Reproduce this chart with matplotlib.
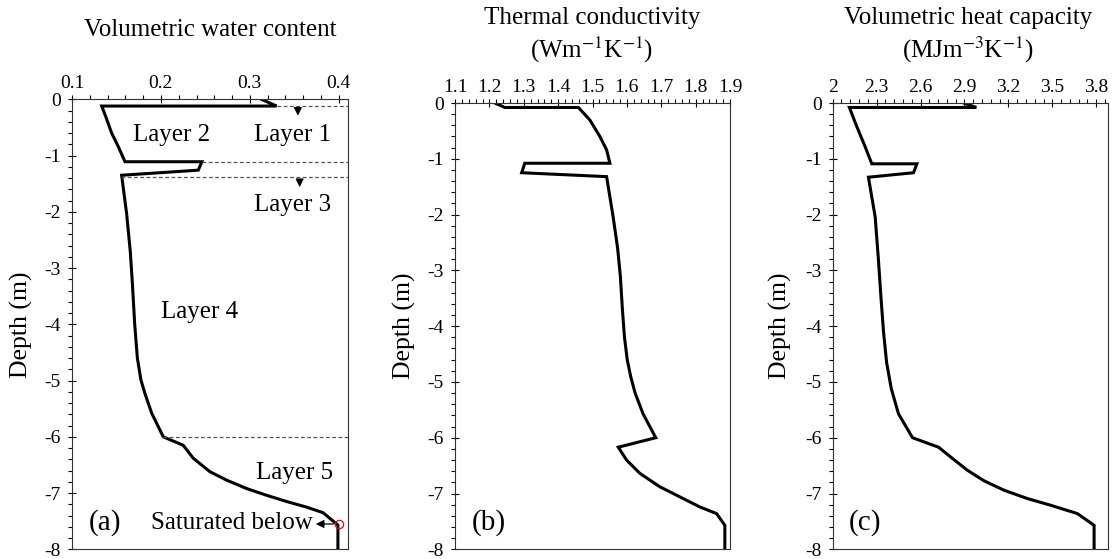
import numpy as np
import matplotlib
matplotlib.use('Agg')
import matplotlib.pyplot as plt
from matplotlib.ticker import MultipleLocator, FixedLocator

plt.rcParams['font.family'] = ['Liberation Serif', 'DejaVu Serif']
plt.rcParams['mathtext.fontset'] = 'stix'

# (a) volumetric water content profile
vwc_x = [0.313, 0.330, 0.1334, 0.138, 0.1446, 0.152, 0.1596, 0.246, 0.242, 0.1558,
         0.1614, 0.1655, 0.168, 0.1705, 0.1735, 0.1775, 0.182, 0.1896, 0.2026,
         0.225, 0.2363, 0.255, 0.2738, 0.2963, 0.3188, 0.3412, 0.3637, 0.3824,
         0.399, 0.399]
vwc_z = [0.0, -0.12, -0.12, -0.31, -0.60, -0.84, -1.11, -1.11, -1.26, -1.35,
         -2.03, -2.7, -3.3, -4.0, -4.6, -4.99, -5.23, -5.58, -6.0,
         -6.15, -6.38, -6.62, -6.77, -6.92, -7.04, -7.15, -7.25, -7.35,
         -7.57, -8.0]

# (b) thermal conductivity profile
tc_x = [1.216, 1.245, 1.459, 1.4924, 1.5215, 1.541, 1.5506, 1.303, 1.294, 1.541,
        1.560, 1.573, 1.581, 1.587, 1.593, 1.601, 1.611, 1.624, 1.647, 1.684,
        1.575, 1.599, 1.638, 1.696, 1.754, 1.812, 1.861, 1.885, 1.885]
tc_z = [0.0, -0.08, -0.08, -0.305, -0.60, -0.84, -1.08, -1.08, -1.25, -1.32,
        -2.04, -2.6, -3.1, -3.7, -4.2, -4.6, -4.9, -5.2, -5.57, -6.0,
        -6.17, -6.40, -6.64, -6.88, -7.06, -7.24, -7.36, -7.57, -8.0]

# (c) volumetric heat capacity profile
hc_x = [2.895, 2.981, 2.114, 2.164, 2.221, 2.267, 2.575, 2.552, 2.244,
        2.290, 2.312, 2.330, 2.347, 2.368, 2.400, 2.449, 2.545,
        2.723, 2.803, 2.918, 3.032, 3.169, 3.329, 3.488, 3.671, 3.785, 3.785]
hc_z = [0.0, -0.08, -0.08, -0.42, -0.78, -1.09, -1.09, -1.25, -1.33,
        -2.04, -2.8, -3.5, -4.1, -4.65, -5.12, -5.57, -6.0,
        -6.17, -6.34, -6.58, -6.77, -6.94, -7.09, -7.21, -7.36, -7.57, -8.0]

# layer boundaries drawn as dashed lines in (a): (depth, start x)
bound_z = [-0.12, -1.11, -1.38, -6.0]
bound_x = [0.330, 0.246, 0.155, 0.2026]

layer_names = ['Layer 1', 'Layer 2', 'Layer 3', 'Layer 4', 'Layer 5']
layer_x = [0.348, 0.212, 0.348, 0.243, 0.350]
layer_z = [-0.64, -0.64, -1.88, -3.78, -6.64]

W, H = 1114, 559
fig = plt.figure(figsize=(W / 100, H / 100), dpi=100)


def px_axes(left, right, top, bottom):
    return fig.add_axes([left / W, 1 - bottom / H, (right - left) / W, (bottom - top) / H])


def style(ax, xlim, xmajor, xminor, ylab_x):
    ax.set_xlim(*xlim)
    ax.set_ylim(-8, 0)
    ax.xaxis.set_major_locator(FixedLocator(xmajor))
    ax.xaxis.set_minor_locator(FixedLocator(xminor))
    ax.yaxis.set_major_locator(MultipleLocator(1))
    ax.yaxis.set_minor_locator(MultipleLocator(0.2))
    ax.xaxis.tick_top()
    ax.tick_params(axis='x', which='major', direction='inout', length=6, width=0.8,
                   labelsize=14, pad=2, top=True, bottom=False)
    ax.tick_params(axis='x', which='minor', direction='out', length=3, width=0.8,
                   top=True, bottom=False)
    ax.tick_params(axis='y', which='major', direction='inout', length=6, width=0.8,
                   labelsize=14, pad=5)
    ax.tick_params(axis='y', which='minor', direction='out', length=3, width=0.8)
    for s in ax.spines.values():
        s.set_color('#333333')
        s.set_linewidth(0.8)
    ax.text(ylab_x, 0.5, 'Depth (m)', transform=ax.transAxes, rotation=90,
            fontsize=18.5, ha='center', va='center')
    ax.yaxis.set_major_formatter(plt.FuncFormatter(lambda v, p: f'{v:g}'))
    ax.xaxis.set_major_formatter(plt.FuncFormatter(lambda v, p: f'{v:.1f}'.rstrip('0').rstrip('.')))


ax1 = px_axes(72, 347.7, 99.3, 549.3)
ax2 = px_axes(455, 730, 103, 549.3)
ax3 = px_axes(832.7, 1108, 103, 549.3)

style(ax1, (0.1, 0.41), np.arange(0.1, 0.41, 0.1), np.arange(0.1, 0.411, 0.02), -0.182)
style(ax2, (1.1, 1.9), np.arange(1.1, 1.91, 0.1), np.arange(1.1, 1.901, 0.02), -0.185)
style(ax3, (2.0, 3.88), np.arange(2.0, 3.81, 0.3), np.arange(2.0, 3.881, 0.06), -0.188)

ax1.plot(vwc_x, vwc_z, color='black', lw=2.2, solid_joinstyle='miter')
ax2.plot(tc_x, tc_z, color='black', lw=2.2, solid_joinstyle='miter')
ax3.plot(hc_x, hc_z, color='black', lw=2.2, solid_joinstyle='miter')

for z, x0 in zip(bound_z, bound_x):
    ax1.plot([x0, 0.41], [z, z], color='#555555', lw=0.9, ls=(0, (3, 2)))

arrow = dict(arrowstyle='-|>', color='black', lw=0.9, mutation_scale=12)
ax1.annotate('', xy=(0.354, -0.34), xytext=(0.354, -0.12), arrowprops=arrow)
ax1.annotate('', xy=(0.356, -1.61), xytext=(0.356, -1.38), arrowprops=arrow)

for name, x, z in zip(layer_names, layer_x, layer_z):
    ax1.text(x, z, name, fontsize=18, ha='center', va='center')

ax1.plot([0.4], [-7.55], 'o', ms=6, mfc='none', mec='red', mew=0.9)
ax1.annotate('', xy=(0.371, -7.55), xytext=(0.397, -7.55), arrowprops=arrow)
ax1.text(0.371, -7.53, 'Saturated below', fontsize=18, ha='right', va='center')

for ax, lab in zip((ax1, ax2, ax3), ['(a)', '(b)', '(c)']):
    ax.text(0.06, 0.06, lab, transform=ax.transAxes, fontsize=21, ha='left', va='center')

fig.text(210 / W, 1 - 30 / H, 'Volumetric water content', fontsize=18, ha='center', va='center')
fig.text(592 / W, 1 - 18 / H, 'Thermal conductivity', fontsize=18, ha='center', va='center')
fig.text(592 / W, 1 - 50 / H, '(Wm$^{-1}$K$^{-1}$)', fontsize=18, ha='center', va='center')
fig.text(968 / W, 1 - 18 / H, 'Volumetric heat capacity', fontsize=18, ha='center', va='center')
fig.text(968 / W, 1 - 50 / H, '(MJm$^{-3}$K$^{-1}$)', fontsize=18, ha='center', va='center')

fig.savefig('out.png', dpi=100)
